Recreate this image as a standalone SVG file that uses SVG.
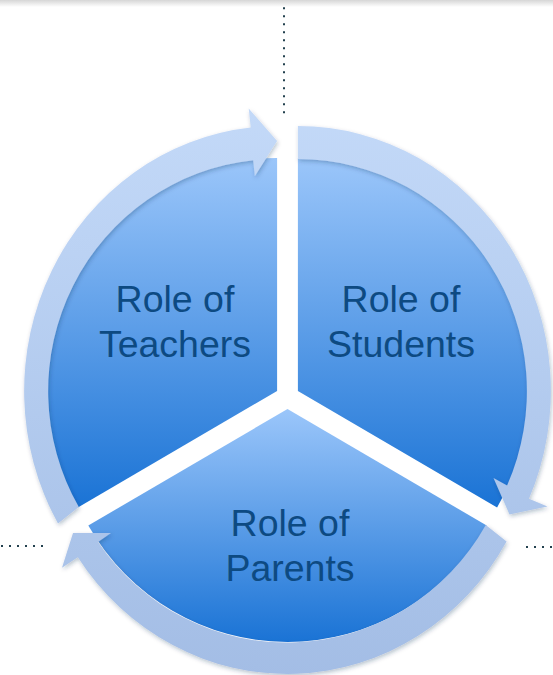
<svg xmlns="http://www.w3.org/2000/svg" width="553" height="675" viewBox="0 0 553 675">
  <defs>
    <linearGradient id="pieFill" x1="0" y1="0" x2="0" y2="1">
      <stop offset="0" stop-color="#9bc6fa"/>
      <stop offset="1" stop-color="#1a73d5"/>
    </linearGradient>
    <linearGradient id="bandFill" gradientUnits="userSpaceOnUse" x1="0" y1="110" x2="0" y2="680">
      <stop offset="0" stop-color="#c3d9f8"/>
      <stop offset="1" stop-color="#a3bde5"/>
    </linearGradient>
    <linearGradient id="topShade" x1="0" y1="0" x2="0" y2="1">
      <stop offset="0" stop-color="#d6d6d6"/>
      <stop offset="1" stop-color="#ffffff"/>
    </linearGradient>
    <filter id="shadow" x="-10%" y="-10%" width="120%" height="120%">
      <feDropShadow dx="1" dy="2" stdDeviation="2" flood-color="#0a2a55" flood-opacity="0.28"/>
    </filter>
  </defs>
  <style>
    .pie { fill: url(#pieFill); }
    .band { fill: url(#bandFill); filter: url(#shadow); }
    .label { font-family: "Liberation Sans", Arial, sans-serif; font-size: 37.5px; fill: #0d4a82; text-anchor: middle; }
    .dots { stroke: #22404e; stroke-width: 2; stroke-dasharray: 2 6; fill: none; }
  </style>

  <rect x="0" y="0" width="553" height="675" fill="#ffffff"/>
  <rect x="0" y="0" width="553" height="7" fill="url(#topShade)"/>

  <g id="guides">
    <path class="dots" d="M284 7.3 V114"/>
    <path class="dots" d="M1 546 H44"/>
    <path class="dots" d="M526 547 H553"/>
  </g>

  <g id="node-teachers">
    <path class="pie" d="M277.1 391 L277.1 158 A230 233 0 0 0 77.9 507.5 Z"/>
    <text class="label" x="175" y="312">Role of</text>
    <text class="label" x="175" y="357">Teachers</text>
  </g>

  <g id="node-students">
    <path class="pie" d="M297.9 391 L297.9 158 A230 233 0 0 1 497.1 507.5 Z"/>
    <text class="label" x="401" y="312">Role of</text>
    <text class="label" x="401" y="357">Students</text>
  </g>

  <g id="node-parents">
    <path class="pie" d="M287.5 409 L486.7 525.5 A230 233 0 0 1 88.3 525.5 Z"/>
    <text class="label" x="290" y="536">Role of</text>
    <text class="label" x="290" y="581">Parents</text>
  </g>

  <g id="connectors">
    <path class="band" d="M78.8 507 L58 523.5 A253 265 0 0 1 250.7 127.5 L248.7 108.6 L277.1 141 L254.8 176.2 L253.2 160.3 A229 232 0 0 0 78.8 507 Z"/>
    <path class="band" d="M297.9 159 L297.9 126 A253 265 0 0 1 529 498.8 L547.5 506.5 L509.5 514.5 L493.5 477.9 L507.1 485.4 A229 232 0 0 0 297.9 159 Z"/>
    <path class="band" d="M485.8 525 L506.6 541.5 A253 265 0 0 1 77.8 557.2 L62 567.8 L73 533 L111 533 L98 542 A229 232 0 0 0 485.8 525 Z"/>
  </g>
</svg>
